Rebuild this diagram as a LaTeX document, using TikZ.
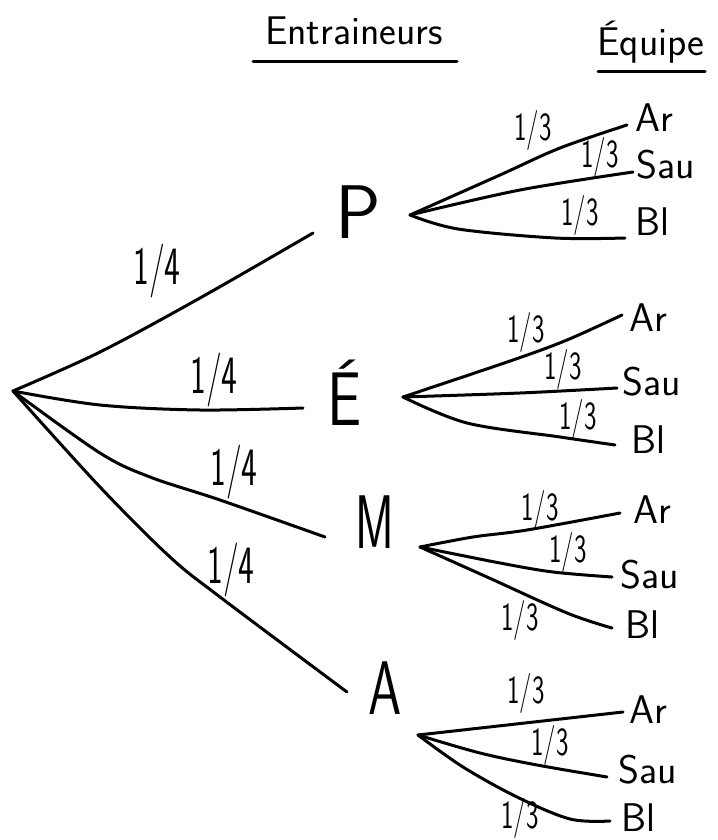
\documentclass[tikz,border=0pt]{standalone}
\tikzset{
  ln/.style={line width=3pt, line cap=round, line join=round},
  big/.style={font=\sffamily\fontsize{76}{80}\selectfont, inner sep=0pt},
  leaf/.style={font=\sffamily\fontsize{40}{44}\selectfont, inner sep=0pt},
  qtr/.style={font=\sffamily\fontsize{54}{58}\selectfont, inner sep=0pt, xscale=0.62, transform shape},
  thrd/.style={font=\sffamily\fontsize{40}{44}\selectfont, inner sep=0pt, xscale=0.66, transform shape},
  ttl/.style={font=\sffamily\fontsize{40}{44}\selectfont, inner sep=0pt},
}
\begin{document}
\begin{tikzpicture}[x=1pt,y=-1pt]
\useasboundingbox (0,0) rectangle (717,840);
\fill[white] (0,0) rectangle (717,840);

% titles
\node[ttl] (ent) at (354,31) {Entraineurs};
\node[ttl] (equ) at (651,42) {Équipe};
\draw[ln] (253,62) -- (457,62);
\draw[ln] (598,72) -- (705,72);

% root
\coordinate (root) at (13,391);

% level 1 nodes
\node[big] (P) at (358,212) {P};
\node[big, xscale=0.8, transform shape] (E) at (345,393) {É};
\node[big, xscale=0.62, transform shape] (M) at (375,522) {M};
\node[big, xscale=0.7, transform shape] (A) at (385,688) {A};

\coordinate (Pin) at (313,233);  \coordinate (Pout) at (410,215);
\coordinate (Ein) at (303,408);  \coordinate (Eout) at (403,397);
\coordinate (Min) at (325,537);  \coordinate (Mout) at (420,547);
\coordinate (Ain) at (347,692);  \coordinate (Aout) at (418,735);

% root edges
\draw[ln] plot[smooth,tension=0.55] coordinates {(root) (100,352) (200,298) (Pin)};
\draw[ln] plot[smooth,tension=0.55] coordinates {(root) (100,405) (200,410) (Ein)};
\draw[ln] plot[smooth,tension=0.55] coordinates {(root) (100,453) (150,477) (220,500) (Min)};
\draw[ln] plot[smooth,tension=0.55] coordinates {(root) (100,487) (170,557) (220,597) (Ain)};

\node[qtr] (q1) at (157,271) {1/4};
\node[qtr] (q2) at (214,380) {1/4};
\node[qtr] (q3) at (234,472) {1/4};
\node[qtr] (q4) at (231,570) {1/4};

% leaves of P
\node[leaf] (PAr) at (654,118) {Ar};
\node[leaf] (PSa) at (666,165) {Sau};
\node[leaf] (PBl) at (652,222) {Bl};
\coordinate (PArE) at (627,125);
\coordinate (PSaE) at (633,172);
\coordinate (PBlE) at (625,238);
\draw[ln] plot[smooth,tension=0.55] coordinates {(Pout) (500,175) (560,148) (PArE)};
\draw[ln] plot[smooth,tension=0.55] coordinates {(Pout) (520,190) (PSaE)};
\draw[ln] plot[smooth,tension=0.55] coordinates {(Pout) (458,229) (555,238) (PBlE)};
\node[thrd] (p1) at (533,130) {1/3};
\node[thrd] (p2) at (600,157) {1/3};
\node[thrd] (p3) at (580,215) {1/3};

% leaves of E
\node[leaf] (EAr) at (648,318) {Ar};
\node[leaf] (ESa) at (652,382) {Sau};
\node[leaf] (EBl) at (648,440) {Bl};
\coordinate (EArE) at (622,315);
\coordinate (ESaE) at (617,388);
\coordinate (EBlE) at (615,445);
\draw[ln] plot[smooth,tension=0.55] coordinates {(Eout) (513,360) (567,340) (EArE)};
\draw[ln] plot[smooth,tension=0.55] coordinates {(Eout) (520,393) (ESaE)};
\draw[ln] plot[smooth,tension=0.55] coordinates {(Eout) (467,423) (560,437) (EBlE)};
\node[thrd] (e1) at (526,332) {1/3};
\node[thrd] (e2) at (563,369) {1/3};
\node[thrd] (e3) at (578,419) {1/3};

% leaves of M
\node[leaf] (MAr) at (652,510) {Ar};
\node[leaf] (MSa) at (650,575) {Sau};
\node[leaf] (MBl) at (642,625) {Bl};
\coordinate (MArE) at (620,513);
\coordinate (MSaE) at (612,577);
\coordinate (MBlE) at (612,628);
\draw[ln] plot[smooth,tension=0.55] coordinates {(Mout) (473,537) (527,530) (MArE)};
\draw[ln] plot[smooth,tension=0.55] coordinates {(Mout) (500,563) (553,572) (MSaE)};
\draw[ln] plot[smooth,tension=0.55] coordinates {(Mout) (487,577) (567,613) (MBlE)};
\node[thrd] (m1) at (540,510) {1/3};
\node[thrd] (m2) at (568,552) {1/3};
\node[thrd] (m3) at (520,620) {1/3};

% leaves of A
\node[leaf] (AAr) at (648,710) {Ar};
\node[leaf] (ASa) at (648,770) {Sau};
\node[leaf] (ABl) at (638,818) {Bl};
\coordinate (AArE) at (623,712);
\coordinate (ASaE) at (607,777);
\coordinate (ABlE) at (610,821);
\draw[ln] (Aout) -- (AArE);
\draw[ln] plot[smooth,tension=0.55] coordinates {(Aout) (480,753) (537,765) (ASaE)};
\draw[ln] plot[smooth,tension=0.55] coordinates {(Aout) (463,767) (517,797) (570,819) (ABlE)};
\node[thrd] (a1) at (526,693) {1/3};
\node[thrd] (a2) at (550,745) {1/3};
\node[thrd] (a3) at (520,818) {1/3};
\end{tikzpicture}
\end{document}
